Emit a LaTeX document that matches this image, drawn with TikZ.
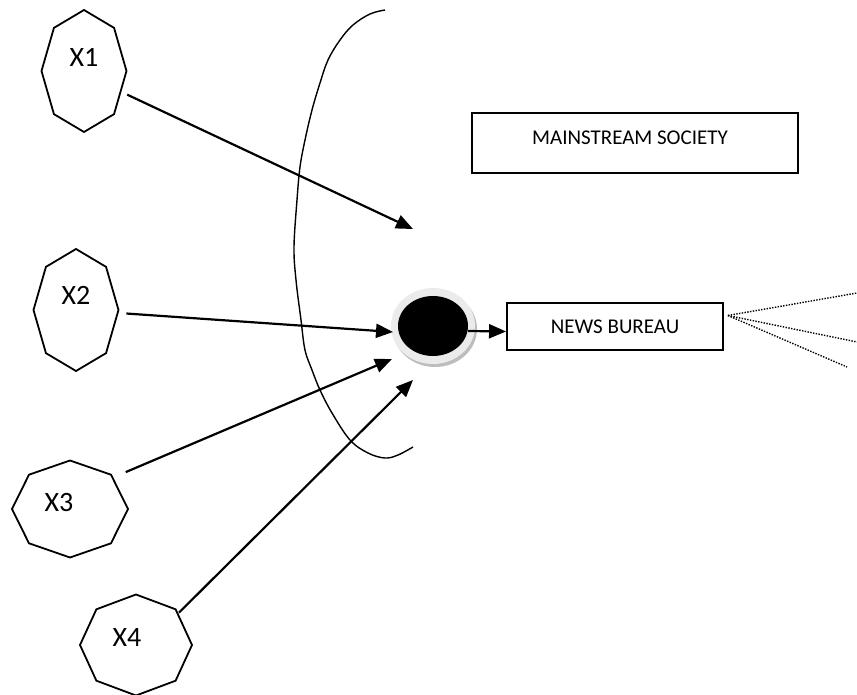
\documentclass[tikz,border=0pt]{standalone}
\usepackage{fontspec}
\setmainfont{Carlito}
\usetikzlibrary{shapes.geometric,arrows.meta}
\definecolor{ringgray}{HTML}{EBEBEB}
\definecolor{shadowgray}{HTML}{BDBDBD}
\begin{document}
\begin{tikzpicture}[x=1pt,y=-1pt,
  xnode/.style={ellipse, draw=none, inner sep=0pt, outer sep=0pt},
  octa/.style={line width=1.8pt, line join=miter},
  lab/.style={font=\fontsize{28}{32}\selectfont, inner sep=0pt},
  arr/.style={line width=2.2pt, -{Triangle[length=17pt,width=14pt]}},
  boxn/.style={draw, line width=1.9pt, inner sep=0pt},
  boxtext/.style={font=\fontsize{21}{25}\selectfont, inner sep=0pt},
  dots/.style={line width=1.4pt, dash pattern=on 1.4pt off 1.4pt},
  arcline/.style={line width=1.4pt}
]
\useasboundingbox (0,0) rectangle (857,695);

% ---- the four actors X1..X4 ----
\node[xnode, minimum width=85pt, minimum height=122pt] (x1) at (84,71) {};
\node[xnode, minimum width=85pt, minimum height=122pt] (x2) at (76,310) {};
\node[xnode, minimum width=116pt, minimum height=97pt] (x3) at (70,509) {};
\node[xnode, minimum width=112pt, minimum height=101pt] (x4) at (136,645) {};
% octagon outlines inscribed in those ellipses
\foreach \cx/\cy/\ra/\rb in {84/71/42.5/61, 76/310/42.5/61, 70/509/58/48.5, 136/645/56/50.5}{
  \draw[octa] plot[samples at={0,45,...,315}, variable=\t]
     ({\cx+\ra*cos(\t)},{\cy+\rb*sin(\t)}) -- cycle;
}
\node[lab] (x1t) at ([yshift=14pt]x1.center) {X1};
\node[lab] (x2t) at ([yshift=15pt]x2.center) {X2};
\node[lab] (x3t) at ([shift={(-11pt,6pt)}]x3.center) {X3};
\node[lab] (x4t) at ([shift={(-9pt,7pt)}]x4.center) {X4};

% ---- open arc (boundary of mainstream society) ----
\draw[arcline] plot[smooth, tension=0.6] coordinates {
  (385,10) (370,14) (353,25) (340,40) (328,60) (320,83) (312,110)
  (305,140) (300,167) (297,200) (294,247) (296,280) (301,320) (305,350)
  (312,370) (320,390) (332,413) (350,440) (368,453) (385,458) (398,455) (413,447)};

% ---- boxes ----
\node[boxn, minimum width=326pt, minimum height=60pt] (ms) at (635,143) {};
\node[boxtext] (mst) at ([shift={(-5pt,5pt)}]ms.center) {MAINSTREAM SOCIETY};
\node[boxn, minimum width=216pt, minimum height=47pt, boxtext] (nb) at (615,326.5) {NEWS BUREAU};

% ---- central black dot with light ring and shadow ----
\fill[shadowgray] (435,329) ellipse [x radius=42, y radius=38];
\fill[ringgray] (433,326) ellipse [x radius=42, y radius=38];
\node[ellipse, fill=black, inner sep=0pt, minimum width=70pt, minimum height=60pt] (dot) at (433,326) {};

% ---- free arrow ends ----
\coordinate (t1) at (413,229);
\coordinate (t2) at (393,332);
\coordinate (t3) at (392,359);
\coordinate (t4) at (413,380);

\draw[arr, shorten <=4pt] (x1.-29) -- (t1);
\draw[arr, shorten <=8pt] (x2.-4) -- (t2);
\draw[arr, shorten <=13pt] (x3.36) -- (t3);
\draw[arr] (x4.37) -- (t4);
\draw[arr] ([yshift=-5pt]dot.east) -- ([yshift=-5pt]nb.west);

% ---- dotted fan out of the news bureau ----
\coordinate (d1) at (857,293);
\coordinate (d2) at (857,342);
\coordinate (d3) at (847,367);
\coordinate (ds) at ([shift={(4pt,11pt)}]nb.east);
\draw[dots] (ds) -- (d1);
\draw[dots] (ds) -- (d2);
\draw[dots] (ds) -- (d3);
\end{tikzpicture}
\end{document}
